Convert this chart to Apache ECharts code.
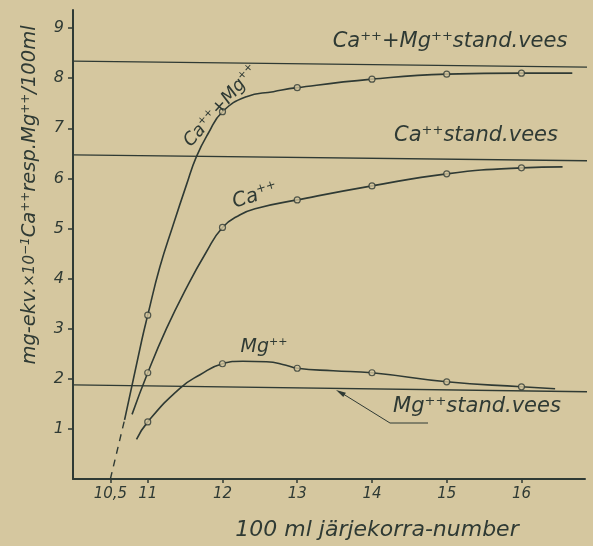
<!DOCTYPE html>
<html>
<head>
<meta charset="utf-8">
<script src="https://cdn.jsdelivr.net/npm/echarts@6/dist/echarts.min.js"></script>
<style>
  html, body { margin: 0; padding: 0; background: #d5c79f; }
  #chart { width: 593px; height: 546px; }
</style>
</head>
<body>
<div id="chart"></div>
<script>
// ---- data ----
const measuredX = [11, 12, 13, 14, 15, 16];
const caMgMeasured = [3.27, 7.33, 7.81, 7.98, 8.08, 8.10];
const caMeasured = [2.12, 5.02, 5.57, 5.85, 6.09, 6.21];
const mgMeasured = [1.14, 2.30, 2.21, 2.12, 1.94, 1.84];

// traced curves
const caMgCurveX = [10.69, 10.92, 11, 11.16, 11.34, 11.52, 11.65, 11.81, 12, 12.32, 12.68, 13, 14, 15, 16, 16.68];
const caMgCurveY = [1.18, 2.77, 3.27, 4.22, 5.07, 5.88, 6.43, 6.90, 7.33, 7.63, 7.73, 7.81, 7.98, 8.08, 8.10, 8.10];
const caCurveX = [10.79, 11, 11.25, 11.52, 11.78, 12, 12.23, 12.45, 13, 14, 15, 16, 16.55];
const caCurveY = [1.29, 2.12, 3.0, 3.82, 4.52, 5.02, 5.27, 5.40, 5.57, 5.85, 6.09, 6.21, 6.23];
const mgCurveX = [10.85, 11, 11.43, 11.70, 12, 12.27, 12.59, 12.85, 13, 13.48, 14, 15, 16, 16.45];
const mgCurveY = [0.79, 1.14, 1.81, 2.08, 2.30, 2.35, 2.34, 2.27, 2.21, 2.16, 2.12, 1.94, 1.84, 1.80];

// dashed extrapolation to the x axis
const extrapX = [10.5, 10.69];
const extrapY = [0, 1.18];

// standard-water levels (left end, right end)
const stdX = [10, 16.96];
const caMgStd = [8.34, 8.22];
const caStd = [6.47, 6.35];
const mgStd = [1.88, 1.74];

// tick labels
const xTickValues = [10.5, 11, 12, 13, 14, 15, 16];
const xTickLabels = ['10,5', '11', '12', '13', '14', '15', '16'];
const yTickValues = [1, 2, 3, 4, 5, 6, 7, 8, 9];

// ---- chart ----
const INK = '#2f3a34';
const BG = '#d5c79f';
const FONT = 'DejaVu Sans';
const zip = (xs, ys) => xs.map((x, i) => [x, ys[i]]);

const chart = echarts.init(document.getElementById('chart'), null, { renderer: 'canvas' });

const supRich = (size) => ({
  s: { fontSize: Math.round(size * 0.6), fontFamily: FONT, fontStyle: 'italic', fill: INK, verticalAlign: 'top', lineHeight: Math.round(size * 1.1) },
  n: { fontSize: size, fontFamily: FONT, fontStyle: 'italic', fill: INK, lineHeight: Math.round(size * 1.1) },
  m: { fontSize: Math.round(size * 0.75), fontFamily: FONT, fontStyle: 'italic', fill: INK, lineHeight: Math.round(size * 1.1) }
});

function label(text, x, y, size, rot, align) {
  return {
    type: 'text', x: x, y: y, rotation: rot || 0, z: 10,
    style: {
      text: text, rich: supRich(size),
      fontSize: size, fontFamily: FONT, fontStyle: 'italic', fill: INK,
      align: align || 'center', verticalAlign: 'middle'
    }
  };
}

const curveStyle = { color: INK, width: 1.6 };

const option = {
  backgroundColor: BG,
  animation: false,
  grid: { left: 73, right: 8, top: 10, bottom: 67 },
  xAxis: {
    type: 'value', min: 10, max: 16.85,
    axisLine: { show: true, lineStyle: { color: INK, width: 2 } },
    axisTick: { show: true, customValues: xTickValues, length: 4, lineStyle: { color: INK, width: 1.5 } },
    axisLabel: {
      customValues: xTickValues,
      formatter: (v) => { const i = xTickValues.indexOf(v); return i >= 0 ? xTickLabels[i] : ''; },
      color: INK, fontFamily: FONT, fontStyle: 'italic', fontSize: 15, margin: 8
    },
    splitLine: { show: false }
  },
  yAxis: {
    type: 'value', min: 0, max: 9.36,
    axisLine: { show: true, lineStyle: { color: INK, width: 2 } },
    axisTick: { show: true, customValues: yTickValues, length: 5, lineStyle: { color: INK, width: 1.5 } },
    axisLabel: {
      customValues: yTickValues,
      color: INK, fontFamily: FONT, fontStyle: 'italic', fontSize: 16, margin: 9
    },
    splitLine: { show: false }
  },
  series: [
    { type: 'line', data: zip(stdX, caMgStd), symbol: 'none', clip: false, lineStyle: { color: INK, width: 1.3 } },
    { type: 'line', data: zip(stdX, caStd), symbol: 'none', clip: false, lineStyle: { color: INK, width: 1.3 } },
    { type: 'line', data: zip(stdX, mgStd), symbol: 'none', clip: false, lineStyle: { color: INK, width: 1.3 } },
    { type: 'line', data: zip(caMgCurveX, caMgCurveY), smooth: 0.5, symbol: 'none', lineStyle: curveStyle },
    { type: 'line', data: zip(caCurveX, caCurveY), smooth: 0.5, symbol: 'none', lineStyle: curveStyle },
    { type: 'line', data: zip(mgCurveX, mgCurveY), smooth: 0.5, symbol: 'none', lineStyle: curveStyle },
    { type: 'line', data: zip(extrapX, extrapY), symbol: 'none', lineStyle: { color: INK, width: 1.4, type: [7, 6] } },
    { type: 'scatter', data: zip(measuredX, caMgMeasured), symbol: 'circle', symbolSize: 6, z: 5, itemStyle: { color: BG, borderColor: INK, borderWidth: 1.2 } },
    { type: 'scatter', data: zip(measuredX, caMeasured), symbol: 'circle', symbolSize: 6, z: 5, itemStyle: { color: BG, borderColor: INK, borderWidth: 1.2 } },
    { type: 'scatter', data: zip(measuredX, mgMeasured), symbol: 'circle', symbolSize: 6, z: 5, itemStyle: { color: BG, borderColor: INK, borderWidth: 1.2 } }
  ],
  graphic: [
    label('{n|Ca}{s|++}{n|+Mg}{s|++}{n|stand.vees}', 450, 42, 21),
    label('{n|Ca}{s|++}{n|stand.vees}', 476, 136, 21),
    label('{n|Mg}{s|++}{n|stand.vees}', 477, 407, 21),
    label('{n|Ca}{s|++}{n|+Mg}{s|++}', 221, 106, 18, 0.85),
    label('{n|Ca}{s|++}', 255, 196, 20, 0.3),
    label('{n|Mg}{s|++}', 264, 347, 19),
    label('{n|100 ml järjekorra-number}', 377, 530, 22),
    label('{n|mg-ekv.}{m|×10}{s|−1}{n|Ca}{s|++}{n|resp.Mg}{s|++}{n|/100ml}', 30, 195, 19.5, Math.PI / 2),
    { type: 'polyline', z: 10, shape: { points: [[428, 423], [390, 423], [340, 392]] }, style: { stroke: INK, lineWidth: 1, fill: null } },
    { type: 'polygon', z: 10, shape: { points: [[336, 390], [343.3, 396.9], [345.9, 392.7]] }, style: { fill: INK } }
  ]
};
chart.setOption(option);
</script>
</body>
</html>
